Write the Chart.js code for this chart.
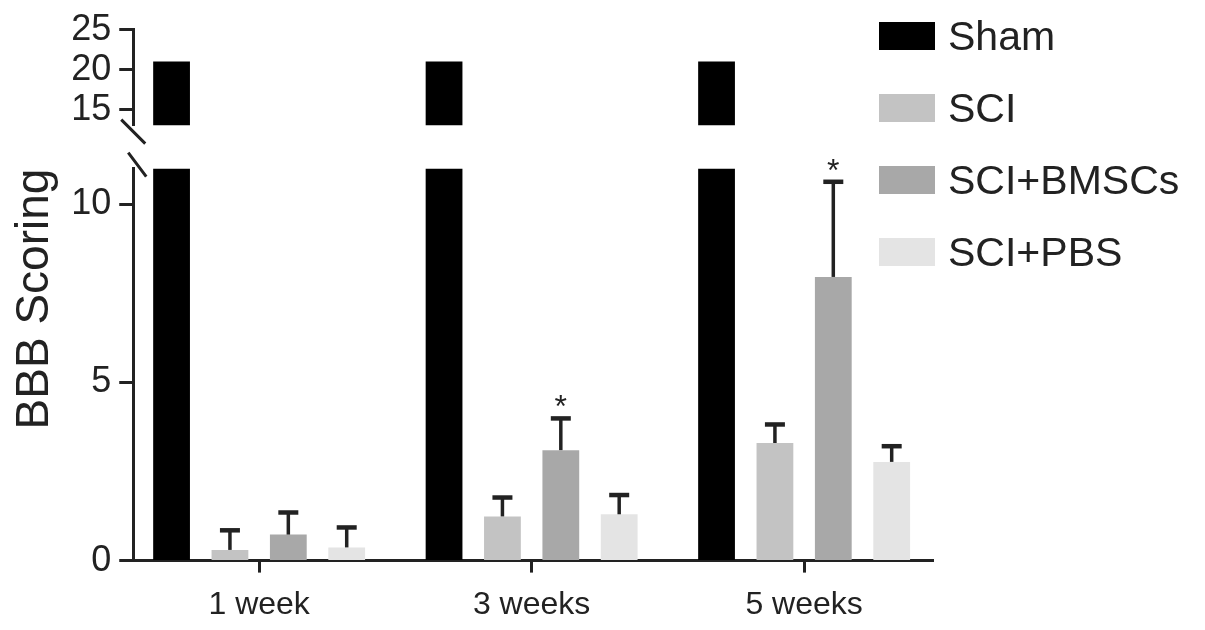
<!DOCTYPE html>
<html>
<head>
<meta charset="utf-8">
<script src="https://cdn.jsdelivr.net/npm/chart.js@4.4.1/dist/chart.umd.min.js"></script>
<style>
  body { margin: 0; background: #fff; }
  #wrap { position: relative; width: 1205px; height: 630px; }
  #legend { position: absolute; left: 879px; top: 0; font-family: 'Liberation Sans', Arial, sans-serif; font-size: 41px; color: #222; }
  #legend .row { display: flex; align-items: center; height: 72px; }
  #legend .box { width: 56px; height: 28px; margin-right: 13px; }
</style>
</head>
<body>
<div id="wrap">
  <canvas id="bbbChart" width="1205" height="630"></canvas>
  <div id="legend"></div>
</div>
<script>
// BBB scores per time point
const weeks = ['1 week', '3 weeks', '5 weeks'];
const weekPos = [0, 1, 2];
const groups = ['Sham', 'SCI', 'SCI+BMSCs', 'SCI+PBS'];
const colors = ['#000000', '#c3c3c3', '#a8a8a8', '#e4e4e4'];

const sham = [21, 21, 21];
const sci = [0.3, 1.24, 3.3];
const sciErr = [0.55, 0.53, 0.52];
const bmsc = [0.73, 3.1, 7.96];
const bmscErr = [0.62, 0.89, 2.67];
const pbs = [0.37, 1.3, 2.77];
const pbsErr = [0.56, 0.54, 0.44];
const bmscMarks = ['', '*', '*'];

const lowerTicks = [0, 5, 10];
const upperTicks = [15, 20, 25];

const FONT = "'Liberation Sans', Arial, sans-serif";
const INK = '#222';

function points(values) {
  return values.map((v, i) => ({ x: weekPos[i], y: v }));
}

// keep each dataset inside its own (stacked) y scale
const clipToScale = {
  id: 'clipToScale',
  beforeDatasetDraw(chart, args) {
    const ys = args.meta.yScale;
    const a = chart.chartArea;
    const ctx = chart.ctx;
    ctx.save();
    ctx.beginPath();
    ctx.rect(a.left, ys.top, a.right - a.left, ys.bottom - ys.top);
    ctx.clip();
  },
  afterDatasetDraw(chart) {
    chart.ctx.restore();
  }
};

// upper SD whiskers with a cap, plus significance marks
const errorBars = {
  id: 'errorBars',
  afterDatasetsDraw(chart) {
    const ctx = chart.ctx;
    ctx.save();
    ctx.strokeStyle = INK;
    chart.data.datasets.forEach((ds, i) => {
      if (!ds.errors) return;
      const meta = chart.getDatasetMeta(i);
      meta.data.forEach((bar, j) => {
        const top = meta.yScale.getPixelForValue(ds.data[j].y + ds.errors[j]);
        ctx.lineWidth = 3.5;
        ctx.beginPath();
        ctx.moveTo(bar.x, bar.y);
        ctx.lineTo(bar.x, top);
        ctx.stroke();
        ctx.lineWidth = 4.5;
        ctx.beginPath();
        ctx.moveTo(bar.x - 10, top);
        ctx.lineTo(bar.x + 10, top);
        ctx.stroke();
        if (ds.marks && ds.marks[j]) {
          ctx.fillStyle = INK;
          ctx.font = '32px ' + FONT;
          ctx.textAlign = 'center';
          ctx.textBaseline = 'middle';
          ctx.fillText(ds.marks[j], bar.x, top - 10);
        }
      });
    });
    ctx.restore();
  }
};

// the two slashes marking the axis break
const axisBreak = {
  id: 'axisBreak',
  afterDraw(chart) {
    const ctx = chart.ctx;
    const x = chart.chartArea.left;
    const upBottom = chart.scales.yTop.bottom;
    const lowTop = chart.scales.y.top;
    ctx.save();
    ctx.strokeStyle = INK;
    ctx.lineWidth = 3;
    ctx.beginPath();
    ctx.moveTo(x - 12, upBottom - 6);
    ctx.lineTo(x + 12, upBottom + 18);
    ctx.moveTo(x - 5, lowTop - 16);
    ctx.lineTo(x + 13, lowTop + 8);
    ctx.stroke();
    ctx.restore();
  }
};

const barStyle = { categoryPercentage: 0.857, barPercentage: 0.63, borderWidth: 0 };

const chart = new Chart(document.getElementById('bbbChart'), {
  type: 'bar',
  data: {
    datasets: [
      { label: groups[0], data: points(sham), backgroundColor: colors[0], yAxisID: 'y', stack: 'sham', ...barStyle },
      { label: groups[0], data: points(sham), backgroundColor: colors[0], yAxisID: 'yTop', stack: 'sham', ...barStyle },
      { label: groups[1], data: points(sci), errors: sciErr, backgroundColor: colors[1], yAxisID: 'y', stack: 'sci', ...barStyle },
      { label: groups[2], data: points(bmsc), errors: bmscErr, marks: bmscMarks, backgroundColor: colors[2], yAxisID: 'y', stack: 'bmsc', ...barStyle },
      { label: groups[3], data: points(pbs), errors: pbsErr, backgroundColor: colors[3], yAxisID: 'y', stack: 'pbs', ...barStyle }
    ]
  },
  options: {
    responsive: false,
    animation: false,
    layout: { padding: { top: 7, right: 272, bottom: -7, left: 8 } },
    scales: {
      x: {
        type: 'linear',
        offset: false,
        min: -0.462,
        max: 2.473,
        afterBuildTicks: scale => { scale.ticks = weekPos.map(v => ({ value: v })); },
        grid: { offset: false, drawOnChartArea: false, tickLength: 12, tickWidth: 3, tickColor: INK },
        border: { color: INK, width: 3 },
        ticks: {
          padding: 13,
          autoSkip: false,
          maxRotation: 0,
          color: INK,
          font: { family: FONT, size: 32 },
          callback: v => weeks[v]
        }
      },
      y: {
        position: 'left',
        stack: 'bbb',
        stackWeight: 392,
        weight: 1,
        stacked: false,
        min: 0,
        max: 11,
        afterBuildTicks: scale => { scale.ticks = lowerTicks.map(v => ({ value: v })); },
        grid: { drawOnChartArea: false, tickLength: 14, tickWidth: 3, tickColor: INK },
        border: { color: INK, width: 3 },
        ticks: { padding: 8, autoSkip: false, color: INK, font: { family: FONT, size: 36 } },
        title: {
          display: true,
          text: 'BBB Scoring',
          align: 'end',
          color: INK,
          font: { family: FONT, size: 46 },
          padding: { top: 0, bottom: 0 }
        }
      },
      yGap: {
        position: 'left',
        stack: 'bbb',
        stackWeight: 43,
        weight: 2,
        min: 0,
        max: 1,
        grid: { display: false },
        border: { display: false },
        ticks: { display: false }
      },
      yTop: {
        position: 'left',
        stack: 'bbb',
        stackWeight: 96,
        weight: 3,
        stacked: false,
        min: 13,
        max: 25,
        afterBuildTicks: scale => { scale.ticks = upperTicks.map(v => ({ value: v })); },
        grid: { drawOnChartArea: false, tickLength: 14, tickWidth: 3, tickColor: INK },
        border: { color: INK, width: 3 },
        ticks: { padding: 8, autoSkip: false, color: INK, font: { family: FONT, size: 36 } }
      }
    },
    plugins: {
      legend: { display: false },
      tooltip: { enabled: false }
    }
  },
  plugins: [clipToScale, errorBars, axisBreak]
});

// HTML legend, one row per group
const legendEl = document.getElementById('legend');
groups.forEach((g, i) => {
  const row = document.createElement('div');
  row.className = 'row';
  const box = document.createElement('span');
  box.className = 'box';
  box.style.background = colors[i];
  const txt = document.createElement('span');
  txt.textContent = g;
  row.appendChild(box);
  row.appendChild(txt);
  legendEl.appendChild(row);
});
</script>
</body>
</html>
